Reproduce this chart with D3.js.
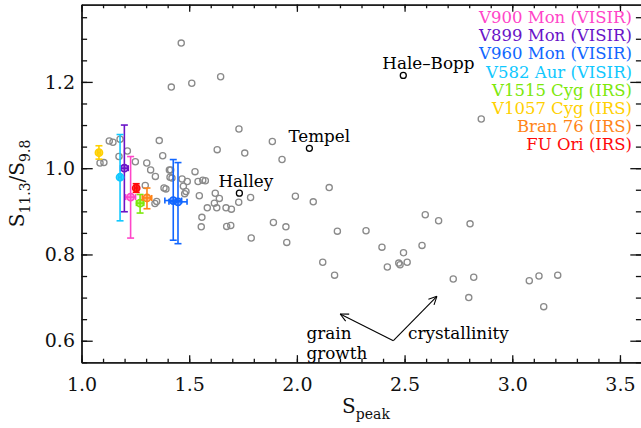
<!DOCTYPE html>
<html>
<head>
<meta charset="utf-8">
<script src="https://cdn.jsdelivr.net/npm/d3@7"></script>
<style>
  html, body { margin: 0; padding: 0; background: #fff; }
  svg { display: block; }
  svg text { font-family: "DejaVu Serif", serif; }
  .axis path, .axis line { stroke: #111; stroke-width: 1.3; }
  .axis text { font-family: "DejaVu Serif", serif; font-size: 19px; fill: #111; }
</style>
</head>
<body>
<svg id="chart" width="641" height="428"></svg>
<script>
// ── Data ──────────────────────────────────────────────────────────────────────
// grey comparison sample (S_peak, S11.3/S9.8)
const greyX = [1.463, 1.417, 1.512, 1.646, 1.731, 1.886, 1.361, 1.630, 1.758, 1.129,
               1.146, 1.179, 1.213, 1.377, 1.174, 1.086, 1.104, 1.250, 1.303, 1.321,
               1.343, 1.408, 1.414, 1.411, 1.420, 1.296, 1.349, 1.341, 1.383, 1.392,
               1.467, 1.491, 1.473, 1.485, 1.479, 1.527, 1.541, 1.563, 1.575, 1.547,
               1.584, 1.559, 1.556, 1.617, 1.628, 1.621, 1.671, 1.696, 1.674, 1.693,
               1.730, 1.785, 1.788, 1.891, 1.931, 1.993, 2.076, 2.150, 1.949, 1.953,
               2.188, 2.321, 2.120, 2.175, 2.395, 2.420, 2.473, 2.479, 2.495, 2.512,
               2.581, 2.596, 2.658, 2.726, 2.804, 2.798, 2.856, 2.821, 3.079, 3.124,
               3.211, 3.146, 1.640];
const greyY = [1.290, 1.188, 1.197, 1.212, 1.091, 1.062, 1.064, 1.043, 1.035, 1.063,
               1.060, 1.067, 1.040, 1.029, 1.027, 1.012, 1.013, 1.015, 1.012, 0.996,
               0.981, 0.996, 0.996, 0.979, 0.977, 0.960, 0.923, 0.918, 0.954, 0.952,
               0.975, 0.969, 0.958, 0.946, 0.941, 0.992, 0.969, 0.972, 0.971, 0.936,
               0.908, 0.886, 0.864, 0.919, 0.908, 0.942, 0.908, 0.905, 0.865, 0.867,
               0.921, 0.932, 0.838, 0.874, 1.020, 0.935, 0.922, 0.955, 0.864, 0.828,
               0.854, 0.855, 0.782, 0.752, 0.817, 0.771, 0.780, 0.776, 0.804, 0.782,
               0.821, 0.892, 0.878, 0.743, 0.871, 0.700, 1.114, 0.747, 0.739, 0.750,
               0.752, 0.679, 0.930];

// comets
const cometNames = ["Hale\u2013Bopp", "Tempel", "Halley"];
const cometX = [2.494, 2.058, 1.733];
const cometY = [1.215, 1.046, 0.942];

// FU Ori objects (legend order)
const srcNames = ["V900 Mon (VISIR)", "V899 Mon (VISIR)", "V960 Mon (VISIR)", "V582 Aur (VISIR)",
                  "V1515 Cyg (IRS)", "V1057 Cyg (IRS)", "Bran 76 (IRS)", "FU Ori (IRS)"];
const srcColors = ["#ff45c8", "#6a14c8", "#1166ff", "#10c8ff",
                   "#7ce80a", "#ffd000", "#ff8418", "#ff0a0a"];

// measurements: which source, value, x error, y range
const ptSrc  = [0, 1, 2, 2, 3, 4, 5, 6, 7];
const ptX    = [1.228, 1.199, 1.426, 1.448, 1.179, 1.272, 1.081, 1.304, 1.254];
const ptY    = [0.933, 1.000, 0.925, 0.922, 0.979, 0.919, 1.036, 0.931, 0.954];
const ptXErr = [0.023, 0.018, 0.039, 0.042, 0.008, 0.017, 0.008, 0.022, 0.008];
const ptYLo  = [0.838, 0.899, 0.833, 0.825, 0.878, 0.896, 1.021, 0.906, 0.944];
const ptYHi  = [1.027, 1.100, 1.020, 1.013, 1.078, 0.939, 1.052, 0.954, 0.964];

// annotation arrows (data coords)
const arrowFrom = [2.448, 0.600];
const arrowTips = [[2.201, 0.662], [2.650, 0.703]];

const xMajor = [1.0, 1.5, 2.0, 2.5, 3.0, 3.5];
const yMajor = [0.6, 0.8, 1.0, 1.2];

// ── Layout ────────────────────────────────────────────────────────────────────
const W = 641, H = 428;
const mLeft = 81.5, mRight = 641.5, mTop = 4.7, mBottom = 362.3;

const x = d3.scaleLinear().domain([1.0, 3.6]).range([mLeft, mRight]);
const y = d3.scaleLinear().domain([0.55, 1.379]).range([mBottom, mTop]);

const svg = d3.select("#chart");
const g = svg.append("g");

// ── Axes (IDL style: inward ticks on all four sides) ──────────────────────────
const xMinor = d3.range(1.0, 3.61, 0.1).map(v => +v.toFixed(2));
const yMinor = d3.range(0.55, 1.38, 0.05).map(v => +v.toFixed(2));
const xTick = 0.02 * (mBottom - mTop), yTick = 0.02 * (mRight - mLeft);

function axisPair(axisFn, scale, major, minor, len, transform, labels) {
  g.append("g").attr("class", "axis").attr("transform", transform)
    .call(axisFn(scale).tickValues(minor).tickSize(-len / 2).tickSizeOuter(0).tickFormat(""));
  g.append("g").attr("class", "axis").attr("transform", transform)
    .call(axisFn(scale).tickValues(major).tickSize(-len).tickSizeOuter(0)
      .tickPadding(labels ? labels : 0)
      .tickFormat(labels ? d3.format(".1f") : ""));
}

axisPair(d3.axisBottom, x, xMajor, xMinor, xTick, `translate(0,${mBottom})`, 15);
axisPair(d3.axisTop, x, xMajor, xMinor, xTick, `translate(0,${mTop})`, 0);
axisPair(d3.axisLeft, y, yMajor, yMinor, yTick, `translate(${mLeft},0)`, 6.5);
axisPair(d3.axisRight, y, yMajor, yMinor, yTick, `translate(${mRight},0)`, 0);

// axis titles
const xt = svg.append("text").attr("x", 366).attr("y", 413)
  .attr("text-anchor", "middle").attr("font-size", 20).attr("fill", "#111");
xt.append("tspan").text("S");
xt.append("tspan").attr("dy", 6).attr("font-size", 14).text("peak");

const yt = svg.append("text").attr("transform", `translate(24,${(mTop + mBottom) / 2}) rotate(-90)`)
  .attr("text-anchor", "middle").attr("font-size", 20).attr("fill", "#111");
yt.append("tspan").text("S");
yt.append("tspan").attr("dy", 6).attr("font-size", 14).text("11.3");
yt.append("tspan").attr("dy", -6).text("/S");
yt.append("tspan").attr("dy", 6).attr("font-size", 14).text("9.8");

// ── Grey sample ───────────────────────────────────────────────────────────────
g.append("g").selectAll("circle").data(greyX).join("circle")
  .attr("cx", d => x(d)).attr("cy", (d, i) => y(greyY[i])).attr("r", 3.1)
  .attr("fill", "none").attr("stroke", "#8a8a8a").attr("stroke-width", 1.3);

// ── Comets ────────────────────────────────────────────────────────────────────
const comets = g.append("g");
cometNames.forEach((name, i) => {
  comets.append("circle").attr("cx", x(cometX[i])).attr("cy", y(cometY[i])).attr("r", 3)
    .attr("fill", "none").attr("stroke", "#000").attr("stroke-width", 1.3);
  comets.append("text").attr("x", x(cometX[i]) - 21).attr("y", y(cometY[i]) - 6.5)
    .attr("font-size", 16.8).attr("fill", "#000").text(name);
});

// ── FU Ori objects with error bars ────────────────────────────────────────────
const pts = g.append("g");
ptSrc.forEach((s, i) => {
  const c = srcColors[s];
  const cx = x(ptX[i]), cy = y(ptY[i]);
  const x0 = x(ptX[i] - ptXErr[i]), x1 = x(ptX[i] + ptXErr[i]);
  const y0 = y(ptYLo[i]), y1 = y(ptYHi[i]);
  const e = pts.append("g").attr("stroke", c).attr("stroke-width", 1.6).attr("fill", "none");
  e.append("line").attr("x1", cx).attr("x2", cx).attr("y1", y0).attr("y2", y1);
  e.append("line").attr("x1", cx - 3.5).attr("x2", cx + 3.5).attr("y1", y0).attr("y2", y0);
  e.append("line").attr("x1", cx - 3.5).attr("x2", cx + 3.5).attr("y1", y1).attr("y2", y1);
  e.append("line").attr("x1", x0).attr("x2", x1).attr("y1", cy).attr("y2", cy);
  e.append("line").attr("x1", x0).attr("x2", x0).attr("y1", cy - 3).attr("y2", cy + 3);
  e.append("line").attr("x1", x1).attr("x2", x1).attr("y1", cy - 3).attr("y2", cy + 3);
  e.append("circle").attr("cx", cx).attr("cy", cy).attr("r", 3.6)
    .attr("fill", c).attr("fill-opacity", 0.55);
});

// ── Legend (coloured labels, right aligned) ───────────────────────────────────
svg.append("g").selectAll("text").data(srcNames).join("text")
  .attr("x", 632).attr("y", (d, i) => 23 + i * 18.2)
  .attr("text-anchor", "end").attr("font-size", 16.5)
  .attr("fill", (d, i) => srcColors[i]).text(d => d);

// ── Annotation arrows ─────────────────────────────────────────────────────────
const ann = g.append("g").attr("stroke", "#000").attr("stroke-width", 1.1).attr("fill", "none");
const ax0 = x(arrowFrom[0]), ay0 = y(arrowFrom[1]);
arrowTips.forEach(t => {
  const tx = x(t[0]), ty = y(t[1]);
  ann.append("line").attr("x1", ax0).attr("y1", ay0).attr("x2", tx).attr("y2", ty);
  const ang = Math.atan2(ay0 - ty, ax0 - tx);
  [-0.45, 0.45].forEach(da => {
    ann.append("line").attr("x1", tx).attr("y1", ty)
      .attr("x2", tx + 9 * Math.cos(ang + da)).attr("y2", ty + 9 * Math.sin(ang + da));
  });
});

const note = svg.append("g").attr("font-size", 16.8).attr("fill", "#000");
note.append("text").attr("x", 306.5).attr("y", 339).text("grain");
note.append("text").attr("x", 306.5).attr("y", 358.5).text("growth");
note.append("text").attr("x", 408).attr("y", 339).text("crystallinity");
</script>
</body>
</html>
